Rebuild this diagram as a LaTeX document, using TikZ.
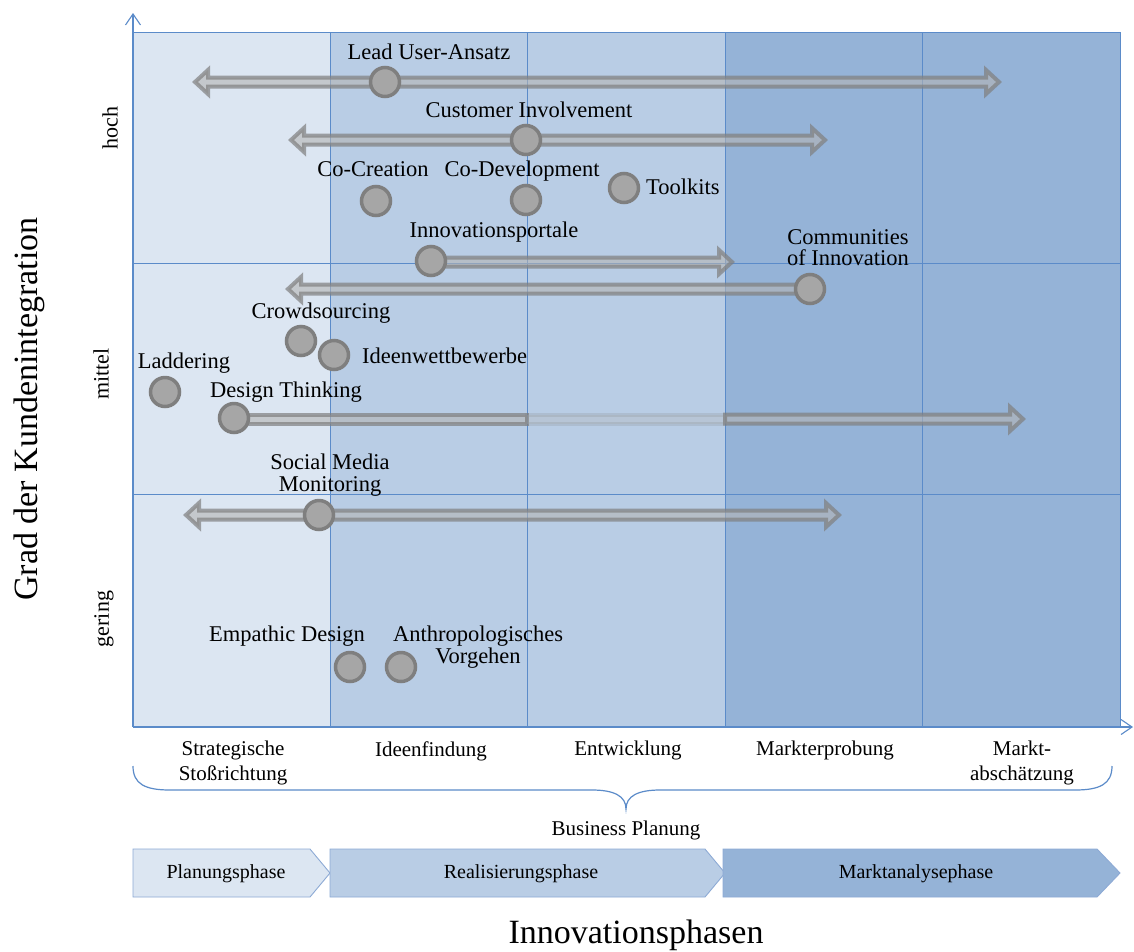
\documentclass[tikz,border=0pt]{standalone}
\usepackage{fontspec}
\setmainfont{Liberation Serif}
\usetikzlibrary{calc,arrows.meta}

\definecolor{colA}{HTML}{DCE6F2}
\definecolor{colB}{HTML}{B9CDE5}
\definecolor{colC}{HTML}{95B3D7}
\definecolor{gridblue}{HTML}{5B8BC9}
\definecolor{chevline}{HTML}{8DAAD5}
\definecolor{dotfill}{HTML}{A6A6A6}
\definecolor{dotline}{HTML}{7F7F7F}
\definecolor{arrfill}{HTML}{B4B4B4}

\pgfdeclarelayer{bg}
\pgfdeclarelayer{arr}
\pgfsetlayers{bg,arr,main}

\newcommand\fsz[2]{\fontsize{#1}{#2}\selectfont}

% double headed block arrow between two tip coordinates
\newcommand\dblarrow[2]{%
 \path[blockarrow] let \p1=(#1),\p2=(#2) in
 (\x1,\y1) -- (\x1+13pt,\y1+12pt) -- (\x1+13pt,\y1+4.5pt) -- (\x2-13pt,\y1+4.5pt) -- (\x2-13pt,\y1+12pt) -- (\x2,\y1)
 -- (\x2-13pt,\y1-12pt) -- (\x2-13pt,\y1-4.5pt) -- (\x1+13pt,\y1-4.5pt) -- (\x1+13pt,\y1-12pt) -- cycle;}
% right pointing block arrow from node #1 to tip #2
\newcommand\rarrow[2]{%
 \path[blockarrow] let \p1=(#1.center),\p2=(#2) in
 (\x1,\y2+4.5pt) -- (\x2-13pt,\y2+4.5pt) -- (\x2-13pt,\y2+12pt) -- (\x2,\y2) -- (\x2-13pt,\y2-12pt) -- (\x2-13pt,\y2-4.5pt) -- (\x1,\y2-4.5pt) -- cycle;}
% left pointing block arrow from node #1 to tip #2
\newcommand\larrow[2]{%
 \path[blockarrow] let \p1=(#1.center),\p2=(#2) in
 (\x1,\y2+4.5pt) -- (\x2+13pt,\y2+4.5pt) -- (\x2+13pt,\y2+12pt) -- (\x2,\y2) -- (\x2+13pt,\y2-12pt) -- (\x2+13pt,\y2-4.5pt) -- (\x1,\y2-4.5pt) -- cycle;}

\begin{document}
\begin{tikzpicture}[x=1pt,y=-1pt,
  blockarrow/.style={fill=arrfill, fill opacity=0.6, draw=dotline, draw opacity=0.7, line width=4pt, line join=miter},
  dot/.style={circle, fill=dotfill, draw=dotline, line width=3.5pt, minimum size=29pt, inner sep=0pt},
  lbl/.style={inner sep=0pt, font=\fsz{22.5}{21.5}},
  cat/.style={inner sep=0pt, font=\fsz{21}{25}, align=center, anchor=north},
  lvl/.style={inner sep=0pt, font=\fsz{22}{24}, rotate=90},
  gridline/.style={draw=gridblue, line width=0.9pt},
  axisline/.style={draw=gridblue, line width=1.1pt, -{Straight Barb[length=11pt,width=15pt]}},
  chev/.style={draw=chevline, line width=0.9pt},
  chevtext/.style={inner sep=0pt, font=\fsz{20}{22}},
]
\useasboundingbox (0,0) rectangle (1134,951);

\begin{pgfonlayer}{bg}
\fill[white] (0,0) rectangle (1134,951);
\fill[colA] (133,32) rectangle (330,727);
\fill[colB] (330,32) rectangle (725,727);
\fill[colC] (725,32) rectangle (1120,727);
\draw[gridline] (330,32) -- (330,727);
\draw[gridline] (527,32) -- (527,727);
\draw[gridline] (725,32) -- (725,727);
\draw[gridline] (922,32) -- (922,727);
\draw[gridline] (133,263) -- (1120,263);
\draw[gridline] (133,494) -- (1120,494);
\draw[gridline] (133,32) rectangle (1120,727);
\end{pgfonlayer}

% axes
\coordinate (origin) at (133,727);
\coordinate (ytop) at (133,13);
\coordinate (xend) at (1133,727);
\draw[axisline] (origin) -- (ytop);
\draw[axisline] (origin) -- (xend);

% method circles
\node[dot] (lu) at (385,82) {};
\node[dot] (ci) at (526,140) {};
\node[dot] (cc) at (376,201) {};
\node[dot] (cd) at (526,200) {};
\node[dot] (tk) at (624,188) {};
\node[dot] (ip) at (431,261) {};
\node[dot] (coi) at (810,289) {};
\node[dot] (cs) at (301,341) {};
\node[dot] (iw) at (334,355) {};
\node[dot] (la) at (165,392) {};
\node[dot] (dt) at (234,418) {};
\node[dot] (sm) at (319,515) {};
\node[dot] (ed) at (350,667) {};
\node[dot] (av) at (401,667) {};

% arrow end points
\coordinate (luL) at (195,82);
\coordinate (luR) at (999,82);
\coordinate (ciL) at (291,140);
\coordinate (ciR) at (825,140);
\coordinate (ipR) at (732,262);
\coordinate (coiL) at (288,289);
\coordinate (dtA) at (527,419);
\coordinate (dtB) at (725,419);
\coordinate (dtR) at (1023,419);
\coordinate (smL) at (186,515);
\coordinate (smR) at (839,515);

\begin{pgfonlayer}{arr}
\dblarrow{luL}{luR}
\dblarrow{ciL}{ciR}
\rarrow{ip}{ipR}
\larrow{coi}{coiL}
\path[blockarrow] let \p1=(dt.center),\p2=(dtA) in (\x1,\y2+4.5pt) rectangle (\x2,\y2-4.5pt);
\path[blockarrow, fill opacity=0.3, draw opacity=0.2] let \p1=(dtA),\p2=(dtB) in (\x1,\y1+4.5pt) rectangle (\x2,\y1-4.5pt);
\path[blockarrow] let \p1=(dtB),\p2=(dtR) in
 (\x1,\y2+4.5pt) -- (\x2-13pt,\y2+4.5pt) -- (\x2-13pt,\y2+12pt) -- (\x2,\y2) -- (\x2-13pt,\y2-12pt) -- (\x2-13pt,\y2-4.5pt) -- (\x1,\y2-4.5pt) -- cycle;
\dblarrow{smL}{smR}
\end{pgfonlayer}

% method labels
\node[lbl, anchor=base] (tlu) at (429,59) {Lead User-Ansatz};
\node[lbl, anchor=base] (tci) at (529,117) {Customer Involvement};
\node[lbl, anchor=base] (tcc) at (373,176) {Co-Creation};
\node[lbl, anchor=base] (tcd) at (522,176) {Co-Development};
\node[lbl, anchor=base west] (ttk) at (646,194) {Toolkits};
\node[lbl, anchor=base] (tip) at (494,237) {Innovationsportale};
\node[lbl, anchor=north, align=center] (tcoi) at (848,229) {Communities\\of Innovation};
\node[lbl, anchor=base] (tcs) at (321,318) {Crowdsourcing};
\node[lbl, anchor=base west] (tiw) at (362,363) {Ideenwettbewerbe};
\node[lbl, anchor=base] (tla) at (184,368) {Laddering};
\node[lbl, anchor=base] (tdt) at (286,397) {Design Thinking};
\node[lbl, anchor=north, align=center] (tsm) at (330,454) {Social Media\\Monitoring};
\node[lbl, anchor=base] (ted) at (287,641) {Empathic Design};
\node[lbl, anchor=north, align=center] (tav) at (478,626) {Anthropologisches\\Vorgehen};

% level labels
\node[lvl] (hoch) at (110,128) {hoch};
\node[lvl] (mittel) at (101,374) {mittel};
\node[lvl] (gering) at (104,619) {gering};
\node[inner sep=0pt, font=\fsz{34}{36}, rotate=90] (ytitle) at (29.5,409) {Grad der Kundenintegration};

% phase labels
\node[cat] (p1) at (233,741) {Strategische\\Stoßrichtung};
\node[cat] (p2) at (431,741) {Ideenfindung};
\node[cat] (p3) at (628,741) {Entwicklung};
\node[cat] (p4) at (825,741) {Markterprobung};
\node[cat] (p5) at (1022,741) {Markt-\\abschätzung};

% brace
\draw[draw=gridblue, line width=1.2pt] (133,766) .. controls (133,784) and (145,790) .. (170,790)
  -- (592,790) .. controls (614,790) and (626,796) .. (626,809)
  .. controls (626,796) and (638,790) .. (660,790) -- (1075,790)
  .. controls (1100,790) and (1112,784) .. (1112,766);
\node[inner sep=0pt, font=\fsz{21}{23}, anchor=base] (bp) at (626,835) {Business Planung};

% chevrons
\fill[colA] (133,849) -- (310,849) -- (330,873) -- (310,897) -- (133,897) -- cycle;
\draw[chev] (133,849) -- (310,849) -- (330,873) -- (310,897) -- (133,897) -- cycle;
\fill[colB] (330,849) -- (705,849) -- (725,873) -- (705,897) -- (330,897) -- cycle;
\draw[chev] (330,849) -- (705,849) -- (725,873) -- (705,897) -- (330,897) -- cycle;
\fill[colC] (723,849) -- (1097,849) -- (1120,873) -- (1097,897) -- (723,897) -- cycle;
\draw[chev] (723,849) -- (1097,849) -- (1120,873) -- (1097,897) -- (723,897) -- cycle;
\node[chevtext] (ch1) at (226,874) {Planungsphase};
\node[chevtext] (ch2) at (521,874) {Realisierungsphase};
\node[chevtext] (ch3) at (916,874) {Marktanalysephase};

\node[inner sep=0pt, font=\fsz{34}{36}, anchor=base] (xtitle) at (636,943) {Innovationsphasen};
\end{tikzpicture}
\end{document}
